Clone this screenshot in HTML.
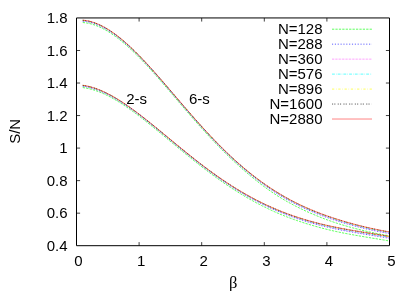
<!DOCTYPE html>
<html><head><meta charset="utf-8"><title>S/N vs beta</title>
<style>
html,body{margin:0;padding:0;background:#fff;}
body{width:415px;height:291px;overflow:hidden;}
svg{display:block;}
text{font-family:"Liberation Sans",sans-serif;font-size:15px;fill:#000;}
.b{font-family:"Liberation Serif",serif;font-size:16.5px;}
</style></head><body>
<svg width="415" height="291" viewBox="0 0 415 291">
<defs><filter id="soft" x="0" y="0" width="415" height="291" filterUnits="userSpaceOnUse"><feGaussianBlur stdDeviation="0.35"/></filter></defs>
<rect width="415" height="291" fill="#fff"/>
<g filter="url(#soft)">

<g fill="none" stroke-width="0.8" stroke-opacity="0.8">
<path d="M82.76,22.53 L85.86,22.85 L88.96,23.42 L92.06,24.20 L95.15,25.20 L98.25,26.41 L101.35,27.82 L104.45,29.41 L107.55,31.19 L110.65,33.13 L113.74,35.23 L116.84,37.49 L119.94,39.89 L123.04,42.43 L126.14,45.09 L129.24,47.87 L132.33,50.76 L135.43,53.75 L138.53,56.83 L141.63,59.99 L144.73,63.24 L147.83,66.55 L150.92,69.93 L154.02,73.37 L157.12,76.86 L160.22,80.39 L163.32,83.96 L166.42,87.56 L169.51,91.18 L172.61,94.80 L175.71,98.44 L178.81,102.07 L181.91,105.69 L185.01,109.30 L188.11,112.90 L191.20,116.47 L194.30,120.01 L197.40,123.52 L200.50,126.99 L203.60,130.42 L206.70,133.82 L209.79,137.16 L212.89,140.46 L215.99,143.71 L219.09,146.90 L222.19,150.04 L225.29,153.12 L228.38,156.14 L231.48,159.10 L234.58,161.99 L237.68,164.83 L240.78,167.59 L243.88,170.31 L246.97,172.97 L250.07,175.57 L253.17,178.12 L256.27,180.61 L259.37,183.03 L262.47,185.39 L265.56,187.68 L268.66,189.90 L271.76,192.04 L274.86,194.11 L277.96,196.11 L281.06,198.02 L284.15,199.86 L287.25,201.64 L290.35,203.35 L293.45,205.01 L296.55,206.60 L299.65,208.14 L302.75,209.63 L305.84,211.07 L308.94,212.46 L312.04,213.81 L315.14,215.12 L318.24,216.39 L321.34,217.63 L324.43,218.82 L327.53,219.98 L330.63,221.09 L333.73,222.16 L336.83,223.19 L339.93,224.16 L343.02,225.10 L346.12,226.01 L349.22,226.90 L352.32,227.75 L355.42,228.57 L358.52,229.37 L361.61,230.14 L364.71,230.89 L367.81,231.60 L370.91,232.29 L374.01,232.95 L377.11,233.58 L380.20,234.17 L383.30,234.74 L386.40,235.28 L389.50,235.78" stroke="#00ff00" stroke-dasharray="2.28,1.14"/>
<path d="M82.76,87.56 L85.86,88.02 L88.96,88.66 L92.06,89.46 L95.15,90.41 L98.25,91.51 L101.35,92.75 L104.45,94.11 L107.55,95.60 L110.65,97.20 L113.74,98.91 L116.84,100.72 L119.94,102.63 L123.04,104.62 L126.14,106.69 L129.24,108.84 L132.33,111.06 L135.43,113.33 L138.53,115.66 L141.63,118.03 L144.73,120.45 L147.83,122.90 L150.92,125.39 L154.02,127.90 L157.12,130.43 L160.22,132.97 L163.32,135.53 L166.42,138.10 L169.51,140.67 L172.61,143.24 L175.71,145.81 L178.81,148.37 L181.91,150.91 L185.01,153.45 L188.11,155.96 L191.20,158.46 L194.30,160.92 L197.40,163.37 L200.50,165.78 L203.60,168.17 L206.70,170.52 L209.79,172.85 L212.89,175.14 L215.99,177.40 L219.09,179.61 L222.19,181.79 L225.29,183.93 L228.38,186.02 L231.48,188.07 L234.58,190.07 L237.68,192.02 L240.78,193.93 L243.88,195.79 L246.97,197.61 L250.07,199.38 L253.17,201.11 L256.27,202.79 L259.37,204.42 L262.47,206.01 L265.56,207.55 L268.66,209.05 L271.76,210.50 L274.86,211.90 L277.96,213.26 L281.06,214.56 L284.15,215.82 L287.25,217.04 L290.35,218.21 L293.45,219.34 L296.55,220.43 L299.65,221.48 L302.75,222.49 L305.84,223.47 L308.94,224.42 L312.04,225.33 L315.14,226.23 L318.24,227.09 L321.34,227.93 L324.43,228.74 L327.53,229.52 L330.63,230.28 L333.73,230.99 L336.83,231.68 L339.93,232.33 L343.02,232.95 L346.12,233.55 L349.22,234.13 L352.32,234.70 L355.42,235.26 L358.52,235.80 L361.61,236.33 L364.71,236.86 L367.81,237.37 L370.91,237.89 L374.01,238.40 L377.11,238.91 L380.20,239.42 L383.30,239.94 L386.40,240.46 L389.50,241.00" stroke="#00ff00" stroke-dasharray="2.28,1.14"/>
<path d="M82.76,21.13 L85.86,21.48 L88.96,22.05 L92.06,22.86 L95.15,23.87 L98.25,25.10 L101.35,26.52 L104.45,28.13 L107.55,29.92 L110.65,31.88 L113.74,34.00 L116.84,36.27 L119.94,38.68 L123.04,41.23 L126.14,43.91 L129.24,46.70 L132.33,49.61 L135.43,52.61 L138.53,55.71 L141.63,58.89 L144.73,62.15 L147.83,65.48 L150.92,68.87 L154.02,72.31 L157.12,75.81 L160.22,79.35 L163.32,82.92 L166.42,86.51 L169.51,90.13 L172.61,93.75 L175.71,97.38 L178.81,101.00 L181.91,104.62 L185.01,108.23 L188.11,111.82 L191.20,115.38 L194.30,118.92 L197.40,122.42 L200.50,125.88 L203.60,129.31 L206.70,132.69 L209.79,136.03 L212.89,139.31 L215.99,142.54 L219.09,145.72 L222.19,148.84 L225.29,151.90 L228.38,154.90 L231.48,157.83 L234.58,160.70 L237.68,163.51 L240.78,166.25 L243.88,168.93 L246.97,171.55 L250.07,174.10 L253.17,176.59 L256.27,179.02 L259.37,181.39 L262.47,183.68 L265.56,185.91 L268.66,188.08 L271.76,190.17 L274.86,192.19 L277.96,194.15 L281.06,196.03 L284.15,197.85 L287.25,199.61 L290.35,201.31 L293.45,202.95 L296.55,204.53 L299.65,206.05 L302.75,207.52 L305.84,208.94 L308.94,210.32 L312.04,211.64 L315.14,212.93 L318.24,214.17 L321.34,215.37 L324.43,216.54 L327.53,217.66 L330.63,218.75 L333.73,219.80 L336.83,220.81 L339.93,221.78 L343.02,222.72 L346.12,223.63 L349.22,224.51 L352.32,225.37 L355.42,226.19 L358.52,227.00 L361.61,227.77 L364.71,228.52 L367.81,229.24 L370.91,229.93 L374.01,230.60 L377.11,231.24 L380.20,231.85 L383.30,232.44 L386.40,232.99 L389.50,233.51" stroke="#0000ff" stroke-dasharray="1.14,1.71"/>
<path d="M82.76,86.22 L85.86,86.70 L88.96,87.36 L92.06,88.18 L95.15,89.15 L98.25,90.26 L101.35,91.51 L104.45,92.89 L107.55,94.39 L110.65,96.00 L113.74,97.72 L116.84,99.54 L119.94,101.45 L123.04,103.45 L126.14,105.53 L129.24,107.68 L132.33,109.89 L135.43,112.17 L138.53,114.50 L141.63,116.87 L144.73,119.29 L147.83,121.74 L150.92,124.22 L154.02,126.73 L157.12,129.26 L160.22,131.81 L163.32,134.37 L166.42,136.93 L169.51,139.50 L172.61,142.07 L175.71,144.63 L178.81,147.19 L181.91,149.73 L185.01,152.26 L188.11,154.77 L191.20,157.25 L194.30,159.72 L197.40,162.15 L200.50,164.56 L203.60,166.93 L206.70,169.28 L209.79,171.59 L212.89,173.86 L215.99,176.09 L219.09,178.29 L222.19,180.44 L225.29,182.55 L228.38,184.61 L231.48,186.63 L234.58,188.61 L237.68,190.53 L240.78,192.41 L243.88,194.24 L246.97,196.03 L250.07,197.77 L253.17,199.47 L256.27,201.11 L259.37,202.72 L262.47,204.27 L265.56,205.78 L268.66,207.24 L271.76,208.66 L274.86,210.03 L277.96,211.35 L281.06,212.63 L284.15,213.87 L287.25,215.06 L290.35,216.21 L293.45,217.32 L296.55,218.38 L299.65,219.41 L302.75,220.40 L305.84,221.36 L308.94,222.27 L312.04,223.16 L315.14,224.02 L318.24,224.85 L321.34,225.64 L324.43,226.41 L327.53,227.15 L330.63,227.86 L333.73,228.55 L336.83,229.20 L339.93,229.83 L343.02,230.43 L346.12,231.02 L349.22,231.58 L352.32,232.14 L355.42,232.68 L358.52,233.20 L361.61,233.72 L364.71,234.23 L367.81,234.74 L370.91,235.24 L374.01,235.74 L377.11,236.25 L380.20,236.76 L383.30,237.27 L386.40,237.79 L389.50,238.32" stroke="#0000ff" stroke-dasharray="1.14,1.71"/>
<path d="M82.76,20.91 L85.86,21.25 L88.96,21.84 L92.06,22.64 L95.15,23.66 L98.25,24.89 L101.35,26.31 L104.45,27.93 L107.55,29.72 L110.65,31.68 L113.74,33.80 L116.84,36.07 L119.94,38.49 L123.04,41.04 L126.14,43.72 L129.24,46.52 L132.33,49.42 L135.43,52.43 L138.53,55.53 L141.63,58.71 L144.73,61.97 L147.83,65.30 L150.92,68.70 L154.02,72.15 L157.12,75.64 L160.22,79.18 L163.32,82.75 L166.42,86.35 L169.51,89.96 L172.61,93.58 L175.71,97.21 L178.81,100.83 L181.91,104.45 L185.01,108.06 L188.11,111.64 L191.20,115.21 L194.30,118.74 L197.40,122.24 L200.50,125.71 L203.60,129.13 L206.70,132.51 L209.79,135.84 L212.89,139.13 L215.99,142.36 L219.09,145.53 L222.19,148.65 L225.29,151.70 L228.38,154.70 L231.48,157.63 L234.58,160.50 L237.68,163.30 L240.78,166.03 L243.88,168.71 L246.97,171.32 L250.07,173.87 L253.17,176.35 L256.27,178.77 L259.37,181.12 L262.47,183.41 L265.56,185.63 L268.66,187.78 L271.76,189.87 L274.86,191.89 L277.96,193.83 L281.06,195.72 L284.15,197.53 L287.25,199.29 L290.35,200.98 L293.45,202.62 L296.55,204.19 L299.65,205.72 L302.75,207.19 L305.84,208.60 L308.94,209.97 L312.04,211.30 L315.14,212.58 L318.24,213.82 L321.34,215.01 L324.43,216.17 L327.53,217.29 L330.63,218.37 L333.73,219.42 L336.83,220.43 L339.93,221.40 L343.02,222.34 L346.12,223.25 L349.22,224.13 L352.32,224.99 L355.42,225.81 L358.52,226.62 L361.61,227.39 L364.71,228.14 L367.81,228.86 L370.91,229.56 L374.01,230.23 L377.11,230.87 L380.20,231.48 L383.30,232.07 L386.40,232.62 L389.50,233.15" stroke="#ff00ff" stroke-dasharray="0.57,0.85"/>
<path d="M82.76,86.00 L85.86,86.49 L88.96,87.15 L92.06,87.97 L95.15,88.94 L98.25,90.06 L101.35,91.31 L104.45,92.69 L107.55,94.19 L110.65,95.81 L113.74,97.53 L116.84,99.35 L119.94,101.27 L123.04,103.26 L126.14,105.34 L129.24,107.49 L132.33,109.71 L135.43,111.98 L138.53,114.31 L141.63,116.69 L144.73,119.10 L147.83,121.55 L150.92,124.04 L154.02,126.55 L157.12,129.08 L160.22,131.62 L163.32,134.18 L166.42,136.75 L169.51,139.31 L172.61,141.88 L175.71,144.44 L178.81,147.00 L181.91,149.54 L185.01,152.07 L188.11,154.58 L191.20,157.06 L194.30,159.52 L197.40,161.96 L200.50,164.36 L203.60,166.74 L206.70,169.08 L209.79,171.38 L212.89,173.65 L215.99,175.88 L219.09,178.07 L222.19,180.22 L225.29,182.33 L228.38,184.39 L231.48,186.40 L234.58,188.37 L237.68,190.29 L240.78,192.17 L243.88,194.00 L246.97,195.78 L250.07,197.51 L253.17,199.20 L256.27,200.85 L259.37,202.44 L262.47,203.99 L265.56,205.50 L268.66,206.95 L271.76,208.36 L274.86,209.73 L277.96,211.05 L281.06,212.33 L284.15,213.56 L287.25,214.74 L290.35,215.89 L293.45,216.99 L296.55,218.06 L299.65,219.08 L302.75,220.07 L305.84,221.02 L308.94,221.93 L312.04,222.81 L315.14,223.66 L318.24,224.49 L321.34,225.28 L324.43,226.04 L327.53,226.77 L330.63,227.48 L333.73,228.15 L336.83,228.80 L339.93,229.43 L343.02,230.03 L346.12,230.61 L349.22,231.18 L352.32,231.73 L355.42,232.26 L358.52,232.79 L361.61,233.30 L364.71,233.81 L367.81,234.32 L370.91,234.82 L374.01,235.32 L377.11,235.82 L380.20,236.33 L383.30,236.84 L386.40,237.36 L389.50,237.90" stroke="#ff00ff" stroke-dasharray="0.57,0.85"/>
<path d="M82.76,20.57 L85.86,20.92 L88.96,21.51 L92.06,22.32 L95.15,23.34 L98.25,24.57 L101.35,26.00 L104.45,27.62 L107.55,29.41 L110.65,31.38 L113.74,33.50 L116.84,35.78 L119.94,38.20 L123.04,40.76 L126.14,43.44 L129.24,46.24 L132.33,49.15 L135.43,52.16 L138.53,55.26 L141.63,58.45 L144.73,61.71 L147.83,65.05 L150.92,68.44 L154.02,71.89 L157.12,75.39 L160.22,78.93 L163.32,82.50 L166.42,86.09 L169.51,89.71 L172.61,93.33 L175.71,96.95 L178.81,100.58 L181.91,104.20 L185.01,107.80 L188.11,111.39 L191.20,114.95 L194.30,118.48 L197.40,121.98 L200.50,125.44 L203.60,128.86 L206.70,132.24 L209.79,135.57 L212.89,138.85 L215.99,142.08 L219.09,145.25 L222.19,148.36 L225.29,151.41 L228.38,154.40 L231.48,157.32 L234.58,160.19 L237.68,162.98 L240.78,165.71 L243.88,168.38 L246.97,170.98 L250.07,173.51 L253.17,175.98 L256.27,178.39 L259.37,180.73 L262.47,183.00 L265.56,185.21 L268.66,187.35 L271.76,189.42 L274.86,191.42 L277.96,193.36 L281.06,195.24 L284.15,197.05 L287.25,198.80 L290.35,200.49 L293.45,202.12 L296.55,203.69 L299.65,205.21 L302.75,206.68 L305.84,208.09 L308.94,209.46 L312.04,210.78 L315.14,212.05 L318.24,213.28 L321.34,214.47 L324.43,215.62 L327.53,216.74 L330.63,217.81 L333.73,218.85 L336.83,219.86 L339.93,220.83 L343.02,221.77 L346.12,222.68 L349.22,223.56 L352.32,224.41 L355.42,225.24 L358.52,226.04 L361.61,226.82 L364.71,227.57 L367.81,228.29 L370.91,228.99 L374.01,229.66 L377.11,230.31 L380.20,230.92 L383.30,231.51 L386.40,232.07 L389.50,232.60" stroke="#00ffff" stroke-dasharray="2.85,1.14,0.57,1.14"/>
<path d="M82.76,85.68 L85.86,86.18 L88.96,86.84 L92.06,87.66 L95.15,88.64 L98.25,89.76 L101.35,91.01 L104.45,92.40 L107.55,93.90 L110.65,95.52 L113.74,97.25 L116.84,99.07 L119.94,100.98 L123.04,102.98 L126.14,105.06 L129.24,107.21 L132.33,109.43 L135.43,111.70 L138.53,114.03 L141.63,116.41 L144.73,118.82 L147.83,121.28 L150.92,123.76 L154.02,126.27 L157.12,128.80 L160.22,131.34 L163.32,133.90 L166.42,136.47 L169.51,139.03 L172.61,141.60 L175.71,144.16 L178.81,146.72 L181.91,149.26 L185.01,151.78 L188.11,154.29 L191.20,156.77 L194.30,159.23 L197.40,161.67 L200.50,164.07 L203.60,166.44 L206.70,168.78 L209.79,171.08 L212.89,173.34 L215.99,175.57 L219.09,177.75 L222.19,179.90 L225.29,182.00 L228.38,184.05 L231.48,186.06 L234.58,188.02 L237.68,189.94 L240.78,191.80 L243.88,193.63 L246.97,195.40 L250.07,197.13 L253.17,198.81 L256.27,200.44 L259.37,202.03 L262.47,203.57 L265.56,205.07 L268.66,206.52 L271.76,207.92 L274.86,209.28 L277.96,210.59 L281.06,211.86 L284.15,213.09 L287.25,214.27 L290.35,215.41 L293.45,216.51 L296.55,217.57 L299.65,218.58 L302.75,219.57 L305.84,220.51 L308.94,221.42 L312.04,222.29 L315.14,223.14 L318.24,223.95 L321.34,224.73 L324.43,225.48 L327.53,226.20 L330.63,226.90 L333.73,227.57 L336.83,228.21 L339.93,228.83 L343.02,229.42 L346.12,230.00 L349.22,230.56 L352.32,231.11 L355.42,231.64 L358.52,232.17 L361.61,232.68 L364.71,233.18 L367.81,233.69 L370.91,234.19 L374.01,234.68 L377.11,235.18 L380.20,235.69 L383.30,236.20 L386.40,236.72 L389.50,237.25" stroke="#00ffff" stroke-dasharray="2.85,1.14,0.57,1.14"/>
<path d="M82.76,20.37 L85.86,20.73 L88.96,21.31 L92.06,22.13 L95.15,23.15 L98.25,24.39 L101.35,25.82 L104.45,27.44 L107.55,29.23 L110.65,31.20 L113.74,33.33 L116.84,35.61 L119.94,38.03 L123.04,40.59 L126.14,43.27 L129.24,46.07 L132.33,48.98 L135.43,51.99 L138.53,55.10 L141.63,58.29 L144.73,61.56 L147.83,64.89 L150.92,68.29 L154.02,71.74 L157.12,75.24 L160.22,78.78 L163.32,82.35 L166.42,85.94 L169.51,89.56 L172.61,93.18 L175.71,96.80 L178.81,100.43 L181.91,104.04 L185.01,107.65 L188.11,111.23 L191.20,114.79 L194.30,118.32 L197.40,121.82 L200.50,125.28 L203.60,128.70 L206.70,132.08 L209.79,135.41 L212.89,138.69 L215.99,141.91 L219.09,145.08 L222.19,148.19 L225.29,151.23 L228.38,154.22 L231.48,157.14 L234.58,160.00 L237.68,162.79 L240.78,165.52 L243.88,168.18 L246.97,170.77 L250.07,173.30 L253.17,175.77 L256.27,178.16 L259.37,180.49 L262.47,182.76 L265.56,184.95 L268.66,187.09 L271.76,189.15 L274.86,191.15 L277.96,193.09 L281.06,194.96 L284.15,196.76 L287.25,198.51 L290.35,200.20 L293.45,201.83 L296.55,203.40 L299.65,204.91 L302.75,206.38 L305.84,207.79 L308.94,209.15 L312.04,210.47 L315.14,211.74 L318.24,212.96 L321.34,214.15 L324.43,215.30 L327.53,216.40 L330.63,217.48 L333.73,218.51 L336.83,219.52 L339.93,220.49 L343.02,221.43 L346.12,222.34 L349.22,223.22 L352.32,224.07 L355.42,224.90 L358.52,225.70 L361.61,226.48 L364.71,227.23 L367.81,227.96 L370.91,228.66 L374.01,229.33 L377.11,229.97 L380.20,230.59 L383.30,231.18 L386.40,231.75 L389.50,232.28" stroke="#ffff00" stroke-dasharray="2.28,1.71,0.57,1.71"/>
<path d="M82.76,85.49 L85.86,85.99 L88.96,86.65 L92.06,87.48 L95.15,88.46 L98.25,89.58 L101.35,90.84 L104.45,92.22 L107.55,93.73 L110.65,95.35 L113.74,97.08 L116.84,98.90 L119.94,100.82 L123.04,102.82 L126.14,104.90 L129.24,107.05 L132.33,109.26 L135.43,111.54 L138.53,113.87 L141.63,116.24 L144.73,118.66 L147.83,121.11 L150.92,123.59 L154.02,126.10 L157.12,128.63 L160.22,131.18 L163.32,133.74 L166.42,136.30 L169.51,138.87 L172.61,141.43 L175.71,144.00 L178.81,146.55 L181.91,149.09 L185.01,151.61 L188.11,154.12 L191.20,156.60 L194.30,159.06 L197.40,161.49 L200.50,163.89 L203.60,166.26 L206.70,168.60 L209.79,170.90 L212.89,173.16 L215.99,175.38 L219.09,177.56 L222.19,179.70 L225.29,181.80 L228.38,183.85 L231.48,185.85 L234.58,187.81 L237.68,189.72 L240.78,191.59 L243.88,193.40 L246.97,195.17 L250.07,196.90 L253.17,198.58 L256.27,200.21 L259.37,201.79 L262.47,203.33 L265.56,204.82 L268.66,206.26 L271.76,207.66 L274.86,209.01 L277.96,210.32 L281.06,211.59 L284.15,212.81 L287.25,213.99 L290.35,215.12 L293.45,216.22 L296.55,217.27 L299.65,218.29 L302.75,219.27 L305.84,220.21 L308.94,221.11 L312.04,221.98 L315.14,222.82 L318.24,223.63 L321.34,224.40 L324.43,225.15 L327.53,225.86 L330.63,226.55 L333.73,227.22 L336.83,227.85 L339.93,228.47 L343.02,229.06 L346.12,229.64 L349.22,230.20 L352.32,230.74 L355.42,231.27 L358.52,231.79 L361.61,232.31 L364.71,232.81 L367.81,233.31 L370.91,233.81 L374.01,234.30 L377.11,234.80 L380.20,235.31 L383.30,235.82 L386.40,236.34 L389.50,236.87" stroke="#ffff00" stroke-dasharray="2.28,1.71,0.57,1.71"/>
<path d="M82.76,20.22 L85.86,20.57 L88.96,21.16 L92.06,21.97 L95.15,23.00 L98.25,24.24 L101.35,25.67 L104.45,27.29 L107.55,29.09 L110.65,31.06 L113.74,33.19 L116.84,35.47 L119.94,37.89 L123.04,40.45 L126.14,43.14 L129.24,45.94 L132.33,48.85 L135.43,51.87 L138.53,54.97 L141.63,58.16 L144.73,61.43 L147.83,64.77 L150.92,68.17 L154.02,71.62 L157.12,75.12 L160.22,78.66 L163.32,82.23 L166.42,85.83 L169.51,89.44 L172.61,93.06 L175.71,96.68 L178.81,100.31 L181.91,103.92 L185.01,107.53 L188.11,111.11 L191.20,114.67 L194.30,118.20 L197.40,121.70 L200.50,125.16 L203.60,128.58 L206.70,131.95 L209.79,135.28 L212.89,138.56 L215.99,141.78 L219.09,144.94 L222.19,148.05 L225.29,151.10 L228.38,154.08 L231.48,157.00 L234.58,159.85 L237.68,162.64 L240.78,165.37 L243.88,168.02 L246.97,170.61 L250.07,173.14 L253.17,175.59 L256.27,177.98 L259.37,180.31 L262.47,182.56 L265.56,184.75 L268.66,186.88 L271.76,188.94 L274.86,190.93 L277.96,192.86 L281.06,194.73 L284.15,196.54 L287.25,198.28 L290.35,199.97 L293.45,201.59 L296.55,203.16 L299.65,204.68 L302.75,206.14 L305.84,207.55 L308.94,208.91 L312.04,210.22 L315.14,211.49 L318.24,212.71 L321.34,213.90 L324.43,215.04 L327.53,216.14 L330.63,217.21 L333.73,218.25 L336.83,219.25 L339.93,220.22 L343.02,221.16 L346.12,222.07 L349.22,222.95 L352.32,223.80 L355.42,224.63 L358.52,225.44 L361.61,226.21 L364.71,226.96 L367.81,227.69 L370.91,228.39 L374.01,229.06 L377.11,229.71 L380.20,230.33 L383.30,230.92 L386.40,231.49 L389.50,232.02" stroke="#000000" stroke-dasharray="1.14,1.14,1.14,2.28"/>
<path d="M82.76,85.34 L85.86,85.84 L88.96,86.51 L92.06,87.33 L95.15,88.31 L98.25,89.44 L101.35,90.70 L104.45,92.08 L107.55,93.59 L110.65,95.21 L113.74,96.94 L116.84,98.77 L119.94,100.68 L123.04,102.69 L126.14,104.76 L129.24,106.92 L132.33,109.13 L135.43,111.41 L138.53,113.73 L141.63,116.11 L144.73,118.53 L147.83,120.98 L150.92,123.46 L154.02,125.97 L157.12,128.50 L160.22,131.05 L163.32,133.60 L166.42,136.17 L169.51,138.74 L172.61,141.30 L175.71,143.86 L178.81,146.41 L181.91,148.95 L185.01,151.48 L188.11,153.98 L191.20,156.47 L194.30,158.93 L197.40,161.36 L200.50,163.76 L203.60,166.13 L206.70,168.46 L209.79,170.76 L212.89,173.02 L215.99,175.24 L219.09,177.41 L222.19,179.55 L225.29,181.64 L228.38,183.69 L231.48,185.69 L234.58,187.65 L237.68,189.55 L240.78,191.41 L243.88,193.23 L246.97,195.00 L250.07,196.72 L253.17,198.39 L256.27,200.02 L259.37,201.60 L262.47,203.13 L265.56,204.62 L268.66,206.06 L271.76,207.45 L274.86,208.80 L277.96,210.11 L281.06,211.37 L284.15,212.59 L287.25,213.76 L290.35,214.90 L293.45,215.99 L296.55,217.04 L299.65,218.06 L302.75,219.03 L305.84,219.97 L308.94,220.87 L312.04,221.74 L315.14,222.57 L318.24,223.37 L321.34,224.14 L324.43,224.88 L327.53,225.59 L330.63,226.28 L333.73,226.94 L336.83,227.57 L339.93,228.19 L343.02,228.78 L346.12,229.35 L349.22,229.91 L352.32,230.45 L355.42,230.98 L358.52,231.50 L361.61,232.01 L364.71,232.51 L367.81,233.01 L370.91,233.51 L374.01,234.00 L377.11,234.50 L380.20,235.01 L383.30,235.52 L386.40,236.04 L389.50,236.57" stroke="#000000" stroke-dasharray="1.14,1.14,1.14,2.28"/>
<path d="M82.76,20.13 L85.86,20.48 L88.96,21.07 L92.06,21.89 L95.15,22.92 L98.25,24.15 L101.35,25.59 L104.45,27.21 L107.55,29.01 L110.65,30.98 L113.74,33.11 L116.84,35.39 L119.94,37.81 L123.04,40.37 L126.14,43.06 L129.24,45.86 L132.33,48.78 L135.43,51.79 L138.53,54.90 L141.63,58.09 L144.73,61.36 L147.83,64.70 L150.92,68.10 L154.02,71.56 L157.12,75.06 L160.22,78.59 L163.32,82.16 L166.42,85.76 L169.51,89.37 L172.61,92.99 L175.71,96.62 L178.81,100.24 L181.91,103.86 L185.01,107.46 L188.11,111.04 L191.20,114.60 L194.30,118.13 L197.40,121.63 L200.50,125.09 L203.60,128.51 L206.70,131.88 L209.79,135.21 L212.89,138.48 L215.99,141.70 L219.09,144.87 L222.19,147.97 L225.29,151.02 L228.38,154.00 L231.48,156.92 L234.58,159.77 L237.68,162.56 L240.78,165.28 L243.88,167.93 L246.97,170.52 L250.07,173.04 L253.17,175.50 L256.27,177.88 L259.37,180.20 L262.47,182.45 L265.56,184.64 L268.66,186.76 L271.76,188.82 L274.86,190.81 L277.96,192.74 L281.06,194.60 L284.15,196.41 L287.25,198.15 L290.35,199.83 L293.45,201.46 L296.55,203.03 L299.65,204.54 L302.75,206.00 L305.84,207.41 L308.94,208.77 L312.04,210.08 L315.14,211.35 L318.24,212.57 L321.34,213.75 L324.43,214.89 L327.53,215.99 L330.63,217.06 L333.73,218.09 L336.83,219.10 L339.93,220.06 L343.02,221.00 L346.12,221.91 L349.22,222.80 L352.32,223.65 L355.42,224.48 L358.52,225.28 L361.61,226.06 L364.71,226.81 L367.81,227.54 L370.91,228.24 L374.01,228.91 L377.11,229.56 L380.20,230.18 L383.30,230.78 L386.40,231.34 L389.50,231.88" stroke="#ff0000" stroke-opacity="0.62"/>
<path d="M82.76,85.25 L85.86,85.75 L88.96,86.42 L92.06,87.25 L95.15,88.23 L98.25,89.36 L101.35,90.62 L104.45,92.01 L107.55,93.52 L110.65,95.14 L113.74,96.87 L116.84,98.69 L119.94,100.61 L123.04,102.61 L126.14,104.69 L129.24,106.84 L132.33,109.06 L135.43,111.33 L138.53,113.66 L141.63,116.03 L144.73,118.45 L147.83,120.90 L150.92,123.39 L154.02,125.90 L157.12,128.43 L160.22,130.97 L163.32,133.53 L166.42,136.09 L169.51,138.66 L172.61,141.23 L175.71,143.79 L178.81,146.34 L181.91,148.88 L185.01,151.40 L188.11,153.91 L191.20,156.39 L194.30,158.85 L197.40,161.28 L200.50,163.68 L203.60,166.05 L206.70,168.38 L209.79,170.68 L212.89,172.93 L215.99,175.15 L219.09,177.33 L222.19,179.46 L225.29,181.55 L228.38,183.60 L231.48,185.60 L234.58,187.55 L237.68,189.46 L240.78,191.32 L243.88,193.13 L246.97,194.90 L250.07,196.61 L253.17,198.29 L256.27,199.91 L259.37,201.49 L262.47,203.02 L265.56,204.50 L268.66,205.94 L271.76,207.33 L274.86,208.68 L277.96,209.99 L281.06,211.25 L284.15,212.46 L287.25,213.64 L290.35,214.77 L293.45,215.86 L296.55,216.91 L299.65,217.92 L302.75,218.90 L305.84,219.83 L308.94,220.73 L312.04,221.60 L315.14,222.43 L318.24,223.23 L321.34,224.00 L324.43,224.73 L327.53,225.44 L330.63,226.13 L333.73,226.78 L336.83,227.42 L339.93,228.03 L343.02,228.62 L346.12,229.19 L349.22,229.75 L352.32,230.29 L355.42,230.82 L358.52,231.33 L361.61,231.84 L364.71,232.35 L367.81,232.84 L370.91,233.34 L374.01,233.83 L377.11,234.33 L380.20,234.84 L383.30,235.35 L386.40,235.87 L389.50,236.40" stroke="#ff0000" stroke-opacity="0.62"/>
</g>
<g fill="none" stroke-width="0.8" stroke-opacity="0.8">
<path d="M332,29.20 H372" stroke="#00ff00" stroke-dasharray="2.28,1.14"/>
<path d="M332,44.17 H372" stroke="#0000ff" stroke-dasharray="1.14,1.71"/>
<path d="M332,59.14 H372" stroke="#ff00ff" stroke-dasharray="0.57,0.85"/>
<path d="M332,74.11 H372" stroke="#00ffff" stroke-dasharray="2.85,1.14,0.57,1.14"/>
<path d="M332,89.08 H372" stroke="#ffff00" stroke-dasharray="2.28,1.71,0.57,1.71"/>
<path d="M332,104.05 H372" stroke="#000000" stroke-dasharray="1.14,1.14,1.14,2.28"/>
<path d="M332,119.02 H372" stroke="#ff0000" stroke-opacity="0.62"/>
</g>
<text x="322.5" y="34.20" text-anchor="end">N=128</text>
<text x="322.5" y="49.13" text-anchor="end">N=288</text>
<text x="322.5" y="64.06" text-anchor="end">N=360</text>
<text x="322.5" y="78.99" text-anchor="end">N=576</text>
<text x="322.5" y="93.92" text-anchor="end">N=896</text>
<text x="322.5" y="108.85" text-anchor="end">N=1600</text>
<text x="322.5" y="123.78" text-anchor="end">N=2880</text>
<g stroke="#000" stroke-width="1" fill="none">
<path d="M76.5,17.95 H389.5 V245.7 H76.5 Z"/>
</g><g stroke="#000" stroke-width="0.75" fill="none">
<path d="M139.10,245.7 v-3.6 M139.10,17.95 v3.6"/>
<path d="M201.70,245.7 v-3.6 M201.70,17.95 v3.6"/>
<path d="M264.30,245.7 v-3.6 M264.30,17.95 v3.6"/>
<path d="M326.90,245.7 v-3.6 M326.90,17.95 v3.6"/>
<path d="M76.5,213.16 h3.6 M389.5,213.16 h-3.6"/>
<path d="M76.5,180.63 h3.6 M389.5,180.63 h-3.6"/>
<path d="M76.5,148.09 h3.6 M389.5,148.09 h-3.6"/>
<path d="M76.5,115.56 h3.6 M389.5,115.56 h-3.6"/>
<path d="M76.5,83.02 h3.6 M389.5,83.02 h-3.6"/>
<path d="M76.5,50.49 h3.6 M389.5,50.49 h-3.6"/>
</g>
<text x="78.50" y="265.5" text-anchor="middle">0</text>
<text x="141.10" y="265.5" text-anchor="middle">1</text>
<text x="203.70" y="265.5" text-anchor="middle">2</text>
<text x="266.30" y="265.5" text-anchor="middle">3</text>
<text x="328.90" y="265.5" text-anchor="middle">4</text>
<text x="391.50" y="265.5" text-anchor="middle">5</text>
<text x="67.5" y="250.90" text-anchor="end">0.4</text>
<text x="67.5" y="218.36" text-anchor="end">0.6</text>
<text x="67.5" y="185.83" text-anchor="end">0.8</text>
<text x="67.5" y="153.29" text-anchor="end">1</text>
<text x="67.5" y="120.76" text-anchor="end">1.2</text>
<text x="67.5" y="88.22" text-anchor="end">1.4</text>
<text x="67.5" y="55.69" text-anchor="end">1.6</text>
<text x="67.5" y="23.15" text-anchor="end">1.8</text>
<text x="126.2" y="104">2-s</text>
<text x="189" y="104">6-s</text>
<text transform="translate(20.3,143.8) rotate(-90)">S/N</text>
<text class="b" x="233.3" y="288.3" text-anchor="middle">β</text>
</g></svg></body></html>
